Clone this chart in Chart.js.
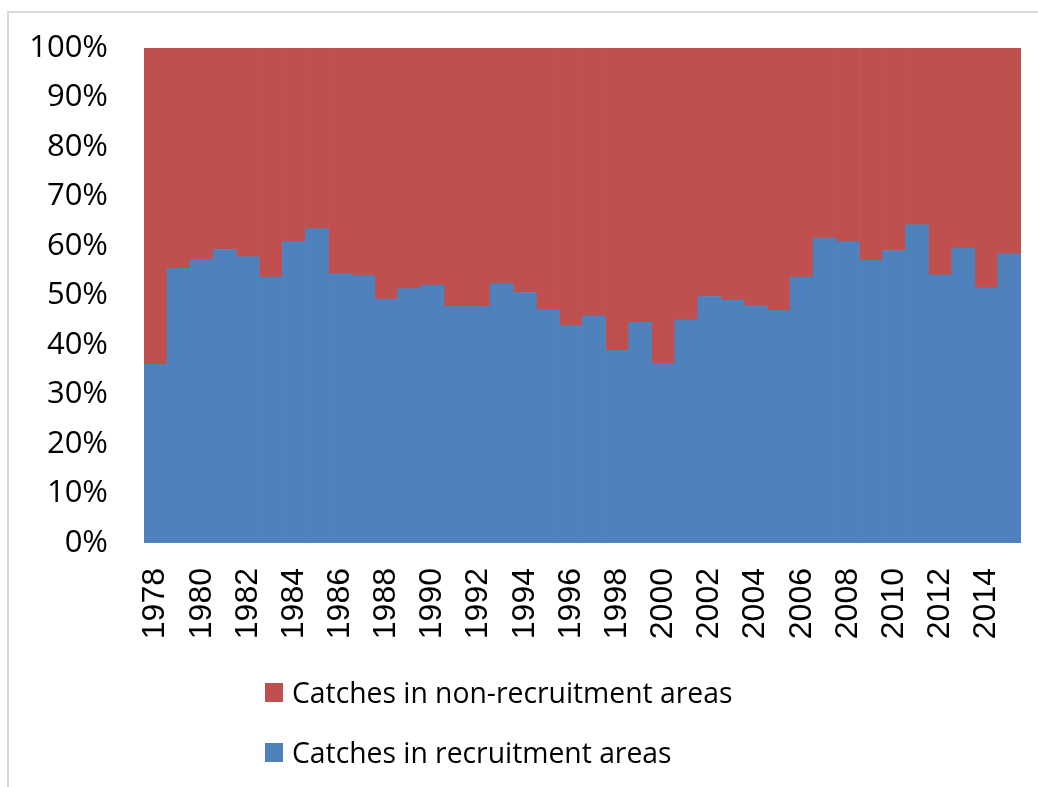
<!DOCTYPE html>
<html>
<head>
<meta charset="utf-8">
<script src="https://cdn.jsdelivr.net/npm/chart.js@4.4.1/dist/chart.umd.min.js"></script>
<style>
  html, body { margin: 0; padding: 0; background: #ffffff; }
  #wrap { position: relative; width: 1038px; height: 787px; overflow: hidden; background: #fff; }
  #frame { position: absolute; left: 7px; top: 11px; width: 1040px; height: 790px;
           border-top: 2px solid #d9d9d9; border-left: 2px solid #d9d9d9; box-sizing: border-box; }
  #chart { position: absolute; left: 0; top: 0; }
  #legend { position: absolute; left: 265px; top: 662px; font-family: "Open Sans", sans-serif;
            font-size: 28.3px; color: #000; }
  .item { display: flex; align-items: center; height: 60px; white-space: nowrap; }
  .box { width: 18px; height: 19px; margin-right: 9px; flex: none; }
</style>
</head>
<body>
<div id="wrap">
  <div id="frame"></div>
  <canvas id="chart" width="1038" height="787"></canvas>
  <div id="legend"></div>
</div>
<script>
const years = ["1978","1979","1980","1981","1982","1983","1984","1985","1986","1987",
               "1988","1989","1990","1991","1992","1993","1994","1995","1996","1997",
               "1998","1999","2000","2001","2002","2003","2004","2005","2006","2007",
               "2008","2009","2010","2011","2012","2013","2014","2015"];
const recruitment = [36.1,55.5,57.3,59.3,57.8,53.7,60.9,63.5,54.4,54.0,
                     49.3,51.4,52.1,47.8,47.8,52.4,50.6,47.2,43.9,45.9,
                     38.9,44.6,36.3,45.1,49.8,49.1,47.9,47.0,53.7,61.6,
                     60.9,57.1,59.1,64.3,54.2,59.6,51.6,58.4];
const nonRecruitment = [63.9,44.5,42.7,40.7,42.2,46.3,39.1,36.5,45.6,46.0,
                        50.7,48.6,47.9,52.2,52.2,47.6,49.4,52.8,56.1,54.1,
                        61.1,55.4,63.7,54.9,50.2,50.9,52.1,53.0,46.3,38.4,
                        39.1,42.9,40.9,35.7,45.8,40.4,48.4,41.6];
const seriesNames = ["Catches in recruitment areas", "Catches in non-recruitment areas"];
const seriesColors = ["#4F81BD", "#C0504D"];

const chart = new Chart(document.getElementById('chart'), {
  type: 'bar',
  data: {
    labels: years,
    datasets: [
      { label: seriesNames[0], data: recruitment, backgroundColor: seriesColors[0],
        borderWidth: 0, barPercentage: 1.0, categoryPercentage: 1.0 },
      { label: seriesNames[1], data: nonRecruitment, backgroundColor: seriesColors[1],
        borderWidth: 0, barPercentage: 1.0, categoryPercentage: 1.0 }
    ]
  },
  options: {
    responsive: false,
    animation: false,
    devicePixelRatio: 1,
    layout: { padding: { top: 48, right: 17, left: 0, bottom: 0 } },
    plugins: { legend: { display: false }, tooltip: { enabled: false } },
    scales: {
      x: {
        stacked: true,
        grid: { display: false, drawTicks: false },
        border: { display: false },
        afterFit: (s) => { s.height = 244; s.paddingLeft = 0; s.paddingRight = 0; },
        ticks: {
          autoSkip: false,
          minRotation: 90, maxRotation: 90,
          padding: 25,
          color: '#000',
          font: { family: '"Liberation Sans", Arial, sans-serif', size: 32 },
          callback: function(v, i) { return i % 2 === 0 ? this.getLabelForValue(v) : ''; }
        }
      },
      y: {
        stacked: true,
        min: 0, max: 100,
        grid: { display: false, drawTicks: false },
        border: { display: false },
        afterFit: (s) => { s.width = 144; s.paddingTop = 0; s.paddingBottom = 0; },
        ticks: {
          stepSize: 10,
          padding: 36,
          color: '#000',
          font: { family: '"Open Sans", sans-serif', size: 31 },
          callback: (v) => v + '%'
        }
      }
    }
  }
});

// HTML legend built from the chart's datasets (reverse order, like the reference)
const legendEl = document.getElementById('legend');
chart.data.datasets.slice().reverse().forEach(ds => {
  const row = document.createElement('div');
  row.className = 'item';
  const box = document.createElement('span');
  box.className = 'box';
  box.style.background = ds.backgroundColor;
  const txt = document.createElement('span');
  txt.textContent = ds.label;
  row.appendChild(box);
  row.appendChild(txt);
  legendEl.appendChild(row);
});
</script>
</body>
</html>
